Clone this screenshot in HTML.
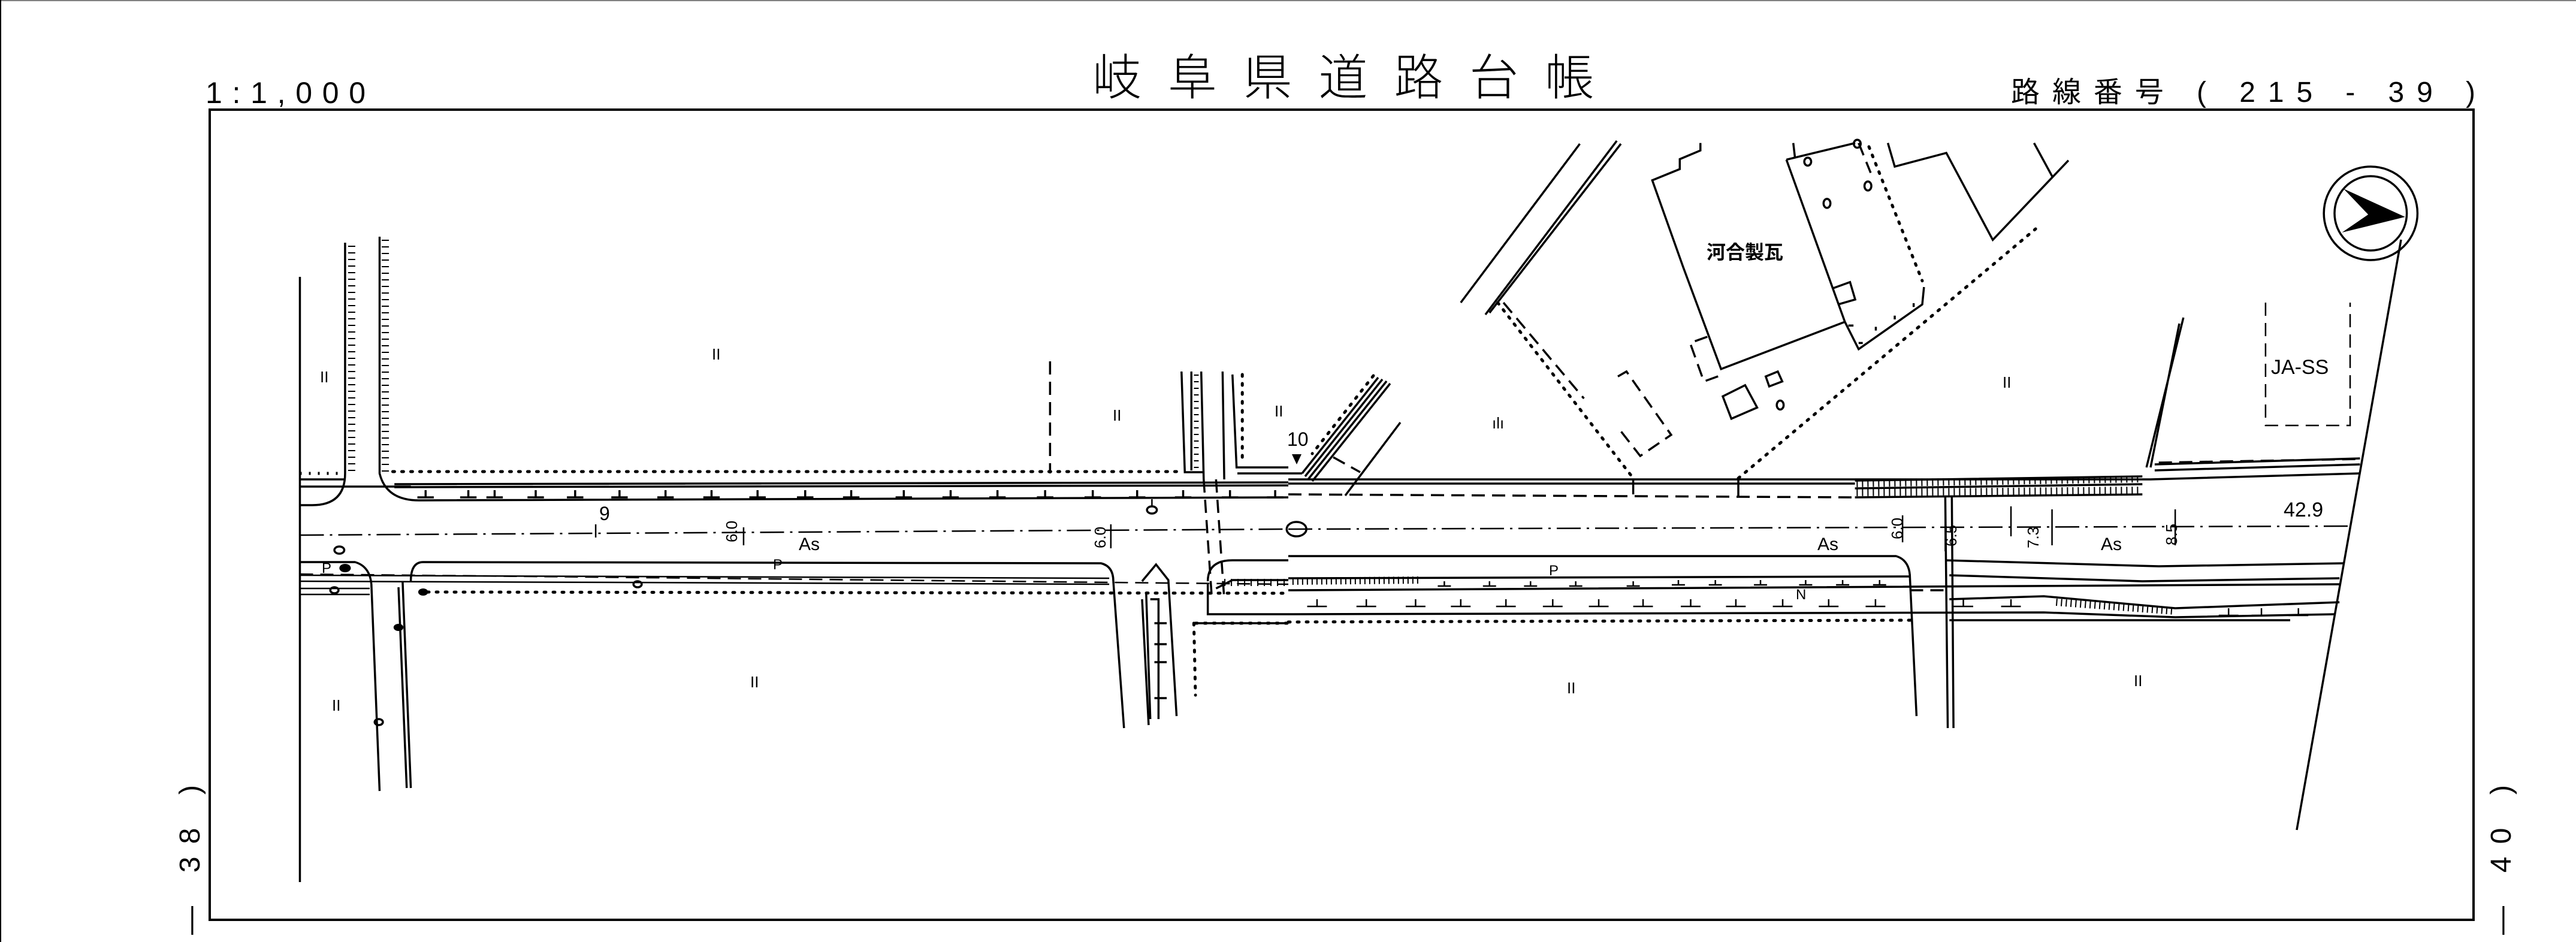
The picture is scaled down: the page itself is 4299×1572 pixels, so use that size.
<!DOCTYPE html>
<html><head><meta charset="utf-8"><style>
html,body{margin:0;padding:0;background:#fff}
svg{display:block}
text{font-family:"Liberation Sans","Noto Sans CJK JP",sans-serif;fill:#000}
.n{vector-effect:non-scaling-stroke;fill:none;stroke:#000;stroke-width:3.5}
.t{stroke-width:2.5}
.d{stroke-dasharray:22 12}
.dt{stroke-dasharray:3 12;stroke-width:5;stroke-linecap:round}
.dd{stroke-dasharray:40 10 4 10}
</style></head><body>
<svg width="4299" height="1572" viewBox="0 0 4299 1572" xmlns="http://www.w3.org/2000/svg">
<rect width="4299" height="1572" fill="#fff"/>
<line x1="1" y1="0" x2="1" y2="1572" stroke="#000" stroke-width="2"/>
<line x1="0" y1="1" x2="4299" y2="1" stroke="#000" stroke-width="1"/>
<rect x="350" y="183" width="3778" height="1352" fill="none" stroke="#000" stroke-width="4"/>
<text x="1823" y="158" font-size="82" font-weight="300" textLength="837" lengthAdjust="spacing" style='font-family:"Noto Sans CJK JP",sans-serif'>岐阜県道路台帳</text>
<text x="343" y="172" font-size="50" textLength="267" lengthAdjust="spacing">1:1,000</text>
<text x="3356" y="170" font-size="48" textLength="775" lengthAdjust="spacing">路線番号 ( 215 -  39 )</text>
<text transform="translate(333,1560) rotate(-90)" font-size="48" textLength="250" lengthAdjust="spacing">—  38 )</text>
<text transform="translate(4190,1560) rotate(-90)" font-size="48" textLength="250" lengthAdjust="spacing">—  40 )</text>

<g transform="scale(1.3712,1)">
 <line class="n" x1="365" y1="462" x2="365" y2="1472"/>
 <path class="n" d="M420 405 V790 Q420 843 380 843 H365"/>
 <line class="n" x1="428" y1="410" x2="428" y2="790" style="stroke-width:12;stroke-dasharray:2 9"/>
 <path class="n" d="M462 395 V790 Q470 835 510 835 L1568 830"/>
 <line class="n" x1="469" y1="400" x2="469" y2="790" style="stroke-width:12;stroke-dasharray:2 9"/>
 <path class="n" d="M365 800 H420 M365 812 L500 812"/>
 <line class="n" x1="365" y1="790" x2="420" y2="790" style="stroke-dasharray:3 12;stroke-width:5"/>
 <path class="n" d="M480 808 L1568 805 M480 813 L1568 810"/>
 <line class="n dt" x1="478" y1="787" x2="1440" y2="787"/>
 <path class="n" d="M518 818v12m-10 0h20 M570 818v12m-10 0h20 M602 818v12m-10 0h20 M652 818v12m-10 0h20 M700 818v12m-10 0h20 M754 818v12m-10 0h20 M810 818v12m-10 0h20 M866 818v12m-10 0h20 M922 818v12m-10 0h20 M980 818v12m-10 0h20 M1036 818v12m-10 0h20 M1100 818v12m-10 0h20 M1157 818v12m-10 0h20 M1214 818v12m-10 0h20 M1272 818v12m-10 0h20 M1330 818v12m-10 0h20 M1384 818v12m-10 0h20 M1440 818v12m-10 0h20 M1497 818v12m-10 0h20 M1552 818v12m-10 0h20"/>
 <line class="n dd t" x1="365" y1="893" x2="1568" y2="883"/>
 <path class="n t" d="M725 875 v22 M905 880 v30 M1352 875 v40"/>
 <line class="n d" x1="1278" y1="603" x2="1278" y2="790"/>
 <path class="n" d="M500 970 Q500 938 515 938 L1340 940 Q1355 945 1355 970"/>
 <path class="n" d="M365 938 H432 Q450 945 452 975"/>
 <path class="n t" d="M365 960 L1350 965 M365 970 L1350 975"/>
 <line class="n d t" x1="365" y1="958" x2="1568" y2="975"/>
 <line class="n dt" x1="520" y1="988" x2="1568" y2="990"/>
 <path class="n t" d="M365 982 H450 M365 992 H450"/>
 <circle class="n" cx="776" cy="975" r="5"/><circle class="n" cx="407" cy="985" r="5"/>
 <circle cx="515" cy="988" r="6"/><circle cx="485" cy="1047" r="6"/><circle cx="420" cy="948" r="7"/>
 <circle class="n" cx="413" cy="918" r="6"/><circle class="n" cx="1402" cy="851" r="6"/>
 <line class="n t" x1="1402" y1="833" x2="1402" y2="845"/>
 <path class="n" d="M452 975 L462 1320 M485 980 L495 1315 M490 970 L500 1315"/>
 <circle class="n" cx="461" cy="1205" r="5"/>
 <path class="n" d="M1355 970 L1368 1215 M1390 1000 L1398 1210 M1395 990 L1400 1200 M1390 970 L1407 942 L1422 968 L1432 1195"/>
 <path class="n" d="M1400 1000 H1410 V1200 M1405 1040 h15 M1405 1075 h15 M1405 1105 h15 M1405 1165 h15"/>
 <line class="n dt" x1="1453" y1="1040" x2="1455" y2="1160"/>
 <path class="n" d="M1438 620 L1442 788 H1465 M1450 620 V785 M1462 620 L1465 800 M1488 620 L1490 800 M1500 625 L1505 780 H1568"/>
 <line class="n" x1="1456" y1="625" x2="1456" y2="785" style="stroke-width:8;stroke-dasharray:2 9"/>
 <line class="n dt" x1="1512" y1="625" x2="1512" y2="770"/>
 <path class="n d" d="M1465 800 L1475 1000 M1480 800 L1490 1000"/>
 <path class="n" d="M1470 970 Q1470 935 1500 935 H1568 M1470 975 V1025 H1568 M1480 982 L1500 968 H1568 M1455 1040 H1568"/>
 <line class="n" x1="1490" y1="972" x2="1568" y2="972" style="stroke-width:12;stroke-dasharray:2 9"/>
 <line class="n dt" x1="1455" y1="1040" x2="1568" y2="1040"/>
</g>

<!-- diagonal road near "10" (full coords) -->
<path class="n" d="M2300 630 L2173 790 M2307 633 L2178 795 M2314 636 L2183 800 M2320 640 L2190 803 M2337 705 L2245 827"/>
<line class="n dt" x1="2292" y1="627" x2="2190" y2="757"/>
<line class="n d" x1="2225" y1="763" x2="2270" y2="788"/>
<path class="n" d="M2173 790 L2065 790"/>

<g transform="translate(2150,0) scale(1.3705,1)">
 <path class="n" d="M0 800 L1050 800 L1305 790 M0 807 L690 807 M1055 775 L1305 765 M1055 785 L1305 775"/>
 <line class="n d" x1="1060" y1="772" x2="1305" y2="766"/>
 <line class="n d" x1="0" y1="825" x2="690" y2="830"/>
 <path class="n" d="M420 800 v25 M548 800 v28"/>
 <path class="n" d="M690 802 L1040 795 M690 830 L1040 825 M690 815 L1040 808"/>
 <line class="n" x1="692" y1="808" x2="1040" y2="800" style="stroke-width:10;stroke-dasharray:2 7"/>
 <line class="n" x1="692" y1="822" x2="1040" y2="818" style="stroke-width:12;stroke-dasharray:2 7"/>
 <path class="n" d="M1045 780 L1090 530 M1050 780 L1085 540"/>
 <line class="n dd t" x1="0" y1="883" x2="1295" y2="878"/>
 <circle class="n" cx="10" cy="883" r="12"/>
 <path class="n t" d="M748 860 v45 M800 840 v80 M880 845 v50 M930 850 v60 M1080 850 v60"/>
 <path class="n" d="M0 928 L740 928 Q757 935 757 965"/>
 <path class="n" d="M0 965 L757 962 M0 985 L1280 975 M0 1025 L920 1022 L1080 1030 L1275 1025"/>
 <line class="n" x1="5" y1="970" x2="160" y2="968" style="stroke-width:12;stroke-dasharray:2 6"/>
 <path class="n t" d="M190 970 v8m-8 0h16 M245 970 v8m-8 0h16 M295 970 v8m-8 0h16 M350 970 v8m-8 0h16 M420 970 v8m-8 0h16 M475 968 v8m-8 0h16 M520 968 v8m-8 0h16 M575 968 v8m-8 0h16 M630 968 v8m-8 0h16 M675 968 v8m-8 0h16 M720 968 v8m-8 0h16"/>
 <path class="n t" d="M35 1000 v12m-12 0h24 M95 1000 v12m-12 0h24 M155 1000 v12m-12 0h24 M210 1000 v12m-12 0h24 M265 1000 v12m-12 0h24 M322 1000 v12m-12 0h24 M378 1000 v12m-12 0h24 M432 1000 v12m-12 0h24 M490 1000 v12m-12 0h24 M545 1000 v12m-12 0h24 M602 1000 v12m-12 0h24 M658 1000 v12m-12 0h24 M715 1000 v12m-12 0h24 M822 1000 v12m-12 0h24 M880 1000 v12m-12 0h24 M1145 1015 v12m-12 0h24 M1185 1015 v12m-12 0h24 M1230 1015 v12m-12 0h24"/>
 <line class="n dt" x1="0" y1="1038" x2="760" y2="1035"/>
 <path class="n" d="M800 935 L1060 945 L1285 940 M805 960 L1040 970 L1280 965 M805 1000 L920 995 L1080 1015 L1280 1005 M805 1035 H1220"/>
 <line class="n" x1="935" y1="1005" x2="1080" y2="1020" style="stroke-width:12;stroke-dasharray:2 6"/>
 <path class="n" d="M757 965 L765 1195 M800 830 L803 1215 M808 830 L810 1215"/>
 <line class="n d" x1="757" y1="985" x2="800" y2="985"/>
 <line class="n" x1="1355" y1="400" x2="1228" y2="1385"/>
 <ellipse class="n" cx="1318" cy="356" rx="57" ry="78"/>
 <ellipse class="n" cx="1318" cy="356" rx="44" ry="62"/>
 <path d="M1285 315 L1360 362 L1283 388 L1315 358 Z"/>
 <path class="n d t" d="M1190 505 V710 H1293 V505"/>
 <path class="n" d="M210 505 L355 240 M240 525 L400 235 M245 522 L405 240"/>
 <line class="n dt" x1="255" y1="505" x2="420" y2="798"/>
 <line class="n d" x1="262" y1="505" x2="360" y2="665"/>
 <line class="n dt" x1="548" y1="798" x2="910" y2="382"/>
</g>

<g transform="translate(2700,220) scale(0.574,0.4145)">
 <path class="n" d="M240 45 V75 L180 110 V150 L100 195 L190 545 L300 955 L660 765"/>
 <path class="n" d="M510 45 L515 105 M490 112 L690 45 M490 112 L660 765 L700 875 L885 695 L890 625"/>
 <path class="n" d="M670 780 h15 M700 850 h12 M750 800 v-15 M805 755 v-15 M860 705 v-15"/>
 <path class="n d" d="M700 45 L735 165"/>
 <line class="n dt" x1="730" y1="60" x2="885" y2="600"/>
 <path class="n" d="M785 45 L805 140 L955 85 L1090 435 L1310 115 M1210 45 L1265 185"/>
 <path class="n" d="M625 630 L675 605 L690 675 L640 695"/>
 <path class="n d" d="M260 825 L210 850 L250 1005 L300 980"/>
 <path class="n" d="M305 1065 L370 1020 L405 1110 L330 1155 Z M430 985 L465 965 L478 1005 L440 1025 Z"/>
 <path class="n d" d="M0 985 L25 965 L155 1220 L65 1305 L0 1190"/>
 <ellipse class="n" cx="472" cy="1100" rx="10" ry="18"/>
 <ellipse class="n" cx="608" cy="288" rx="10" ry="18"/>
 <ellipse class="n" cx="727" cy="218" rx="10" ry="18"/>
 <ellipse class="n" cx="552" cy="120" rx="10" ry="16"/>
 <ellipse class="n" cx="696" cy="48" rx="10" ry="16"/>
</g>

<g font-size="32">
 <text x="2848" y="432" font-size="32" font-weight="bold" style='font-family:"Noto Sans CJK JP",sans-serif'>河合製瓦</text>
 <text x="1333" y="918" font-size="30">As</text>
 <text x="3033" y="918" font-size="30">As</text>
 <text x="3506" y="918" font-size="30">As</text>
 <text x="3811" y="862" font-size="34">42.9</text>
 <text x="3790" y="624" font-size="34">JA-SS</text>
 <text x="2148" y="744" font-size="32">10</text>
 <path d="M2156 758 L2172 758 L2164 775 Z"/>
 <text x="1000" y="868" font-size="32">9</text>
 <text x="537" y="956" font-size="24">P</text>
 <text x="1290" y="950" font-size="24">P</text>
 <text x="2585" y="960" font-size="24">P</text>
 <text x="2997" y="1000" font-size="24">N</text>
 <g font-size="26">
  <text x="1188" y="600">II</text><text x="534" y="638">II</text><text x="1857" y="702">II</text>
  <text x="2127" y="695">II</text><text x="1252" y="1147">II</text><text x="554" y="1186">II</text>
  <text x="3342" y="647">II</text><text x="2615" y="1157">II</text><text x="3561" y="1145">II</text>
  <text x="2490" y="715">ılı</text>
 </g>
 <g font-size="26">
  <text transform="translate(1230,905) rotate(-90)">6.0</text>
  <text transform="translate(1845,915) rotate(-90)">6.0</text>
  <text transform="translate(3175,900) rotate(-90)">6.0</text>
  <text transform="translate(3265,912) rotate(-90)">6.5</text>
  <text transform="translate(3402,915) rotate(-90)">7.3</text>
  <text transform="translate(3633,910) rotate(-90)">8.5</text>
 </g>
</g>
</svg>
</body></html>
